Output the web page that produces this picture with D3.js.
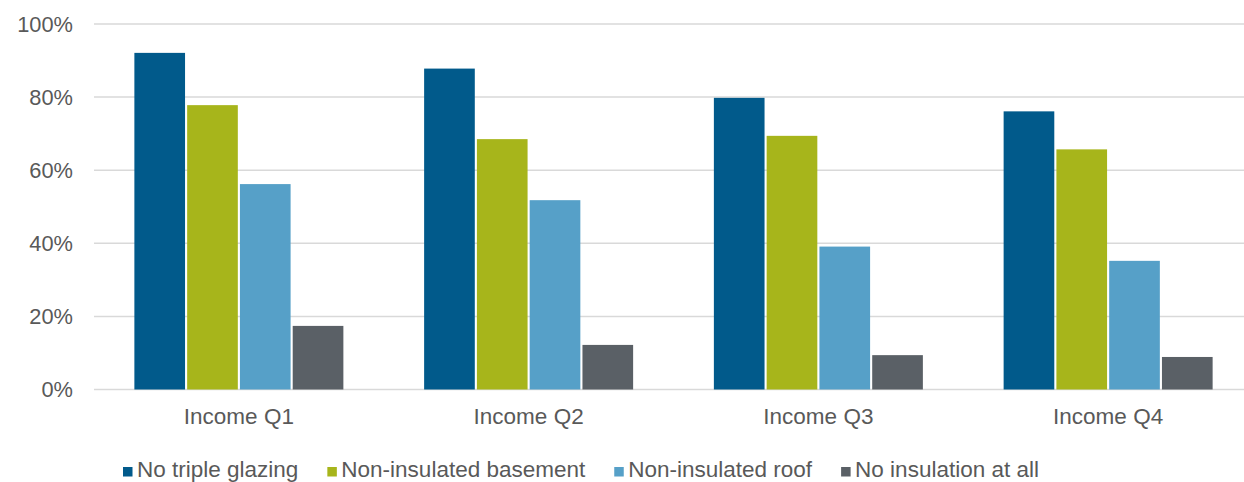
<!DOCTYPE html>
<html>
<head>
<meta charset="utf-8">
<script src="https://cdn.jsdelivr.net/npm/d3@7"></script>
<style>
  html, body { margin: 0; padding: 0; background: #fff; }
  svg { display: block; font-family: "Liberation Sans", Arial, sans-serif; }
</style>
</head>
<body>
<svg id="chart" width="1244" height="482"></svg>
<script>
// Share of homes lacking each insulation measure, by income quartile
const categories = ["Income Q1", "Income Q2", "Income Q3", "Income Q4"];
const seriesNames = ["No triple glazing", "Non-insulated basement", "Non-insulated roof", "No insulation at all"];
const noTripleGlazing    = [0.921, 0.878, 0.798, 0.761];
const nonInsulatedBase   = [0.778, 0.685, 0.694, 0.657];
const nonInsulatedRoof   = [0.562, 0.518, 0.391, 0.352];
const noInsulationAtAll  = [0.174, 0.122, 0.094, 0.089];
const yTicks = [0, 0.2, 0.4, 0.6, 0.8, 1.0];
const colors = ["#015A8B", "#A7B51B", "#56A0C8", "#5A6066"];

const seriesValues = [noTripleGlazing, nonInsulatedBase, nonInsulatedRoof, noInsulationAtAll];

const svg = d3.select("#chart");
const textColor = "#595959";

const x0 = d3.scaleBand().domain(categories).range([94, 1253]).padding(0);
const groupW = 209;
const groupOff = (x0.bandwidth() - groupW) / 2;
const x1 = d3.scaleBand().domain(seriesNames).range([groupOff, groupOff + groupW]).paddingInner(0.04).paddingOuter(0);
const y = d3.scaleLinear().domain([0, 1]).range([389.5, 24]);

// gridlines
svg.append("g").selectAll("line").data(yTicks).join("line")
  .attr("x1", 94).attr("x2", 1244)
  .attr("y1", d => y(d)).attr("y2", d => y(d))
  .attr("stroke", "#D9D9D9").attr("stroke-width", 1.5);

// y tick labels
svg.append("g").selectAll("text").data(yTicks).join("text")
  .attr("x", 73).attr("y", d => y(d)).attr("dy", "0.35em")
  .attr("text-anchor", "end")
  .attr("font-size", 21.8).attr("fill", textColor)
  .text(d3.format(".0%"));

// bars
const groups = svg.append("g").selectAll("g").data(categories).join("g")
  .attr("transform", d => `translate(${x0(d)},0)`);
groups.selectAll("rect")
  .data((c, i) => seriesNames.map((s, j) => ({ s, j, v: seriesValues[j][i] })))
  .join("rect")
  .attr("x", d => x1(d.s))
  .attr("width", x1.bandwidth())
  .attr("y", d => y(d.v))
  .attr("height", d => y(0) - y(d.v))
  .attr("fill", d => colors[d.j]);

// category labels
svg.append("g").selectAll("text").data(categories).join("text")
  .attr("x", d => x0(d) + x0.bandwidth() / 2)
  .attr("y", 424)
  .attr("text-anchor", "middle")
  .attr("font-size", 22.5).attr("fill", textColor)
  .text(d => d);

// legend
const legend = svg.append("g");
let lx = 123;
seriesNames.forEach((name, j) => {
  legend.append("rect")
    .attr("x", lx).attr("y", 467).attr("width", 9.5).attr("height", 9.5)
    .attr("fill", colors[j]);
  const t = legend.append("text")
    .attr("x", lx + 14).attr("y", 477)
    .attr("font-size", 22.5).attr("fill", textColor)
    .text(name);
  lx += 14 + t.node().getComputedTextLength() + 29;
});
</script>
</body>
</html>
